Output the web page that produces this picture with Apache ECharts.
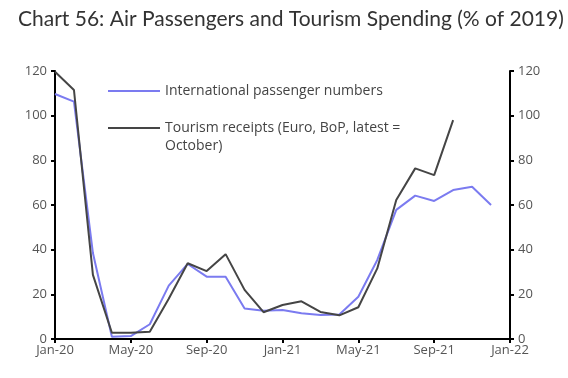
<!DOCTYPE html>
<html><head><meta charset="utf-8">
<script src="https://cdn.jsdelivr.net/npm/echarts@6/dist/echarts.min.js"></script>
<style>html,body{margin:0;padding:0;background:#fff;}#c{width:568px;height:378px;}</style>
</head><body><div id="c"></div>
<script>
const months = ['Jan-20','Feb-20','Mar-20','Apr-20','May-20','Jun-20','Jul-20','Aug-20','Sep-20','Oct-20','Nov-20','Dec-20',
'Jan-21','Feb-21','Mar-21','Apr-21','May-21','Jun-21','Jul-21','Aug-21','Sep-21','Oct-21','Nov-21','Dec-21','Jan-22'];
const passengers = [109.7,106.3,38.5,1,1.3,6.6,23.9,33.6,27.9,27.9,13.7,12.7,13,11.5,10.7,11,18.9,35.4,57.8,64.2,61.8,66.7,68.2,60,null];
const receipts = [119.7,111.5,28.7,2.8,2.8,3.3,18,33.9,30.4,38,22,12,15.2,16.9,12.1,10.6,14.2,31.6,62.2,76.4,73.4,98,null,null,null];
const yTicks = {min:0, max:120, interval:20};
const nameP = 'International passenger numbers';
const nameR = 'Tourism receipts (Euro, BoP, latest =\nOctober)';

const chart = echarts.init(document.getElementById('c'));
const axisCommon = {
  type:'value', min:yTicks.min, max:yTicks.max, interval:yTicks.interval,
  axisLine:{show:true, lineStyle:{color:'#000', width:2}},
  axisTick:{show:true, length:4, lineStyle:{color:'#000', width:2}},
  splitLine:{show:false},
  axisLabel:{color:'#555', fontFamily:'Open Sans', fontSize:13, margin:8}
};
const legendText = {fontFamily:'Open Sans', fontSize:14, color:'#444', lineHeight:18};
chart.setOption({
  animation:false,
  title:{text:'Chart 56: Air Passengers and Tourism Spending (% of 2019)', left:13, top:4,
    textStyle:{fontFamily:'Lato', fontWeight:'normal', fontSize:21, color:'#333'}},
  grid:{left:55, right:58, top:71, bottom:39},
  legend:[
    {data:[nameP], left:103, top:77, orient:'vertical', icon:'rect', itemWidth:52, itemHeight:2,
     textStyle:legendText},
    {data:[nameR], left:103, top:96, orient:'vertical', icon:'rect', itemWidth:52, itemHeight:2,
     formatter:(n) => '\n' + n,
     textStyle:legendText}
  ],
  xAxis:{type:'category', data:months, boundaryGap:false,
    axisLine:{lineStyle:{color:'#000', width:2}},
    axisTick:{show:true, interval:3, length:4, lineStyle:{color:'#000', width:2}},
    axisLabel:{interval:3, color:'#555', fontFamily:'Open Sans', fontSize:13, margin:5},
    splitLine:{show:false}},
  yAxis:[Object.assign({position:'left'}, axisCommon), Object.assign({position:'right'}, axisCommon)],
  series:[
    {name:nameP, type:'line', data:passengers, symbol:'none', yAxisIndex:0,
     lineStyle:{color:'#7b7bf0', width:2}, itemStyle:{color:'#7b7bf0'}},
    {name:nameR, type:'line', data:receipts, symbol:'none', yAxisIndex:0,
     lineStyle:{color:'#454545', width:2}, itemStyle:{color:'#454545'}}
  ]
});
</script></body></html>
